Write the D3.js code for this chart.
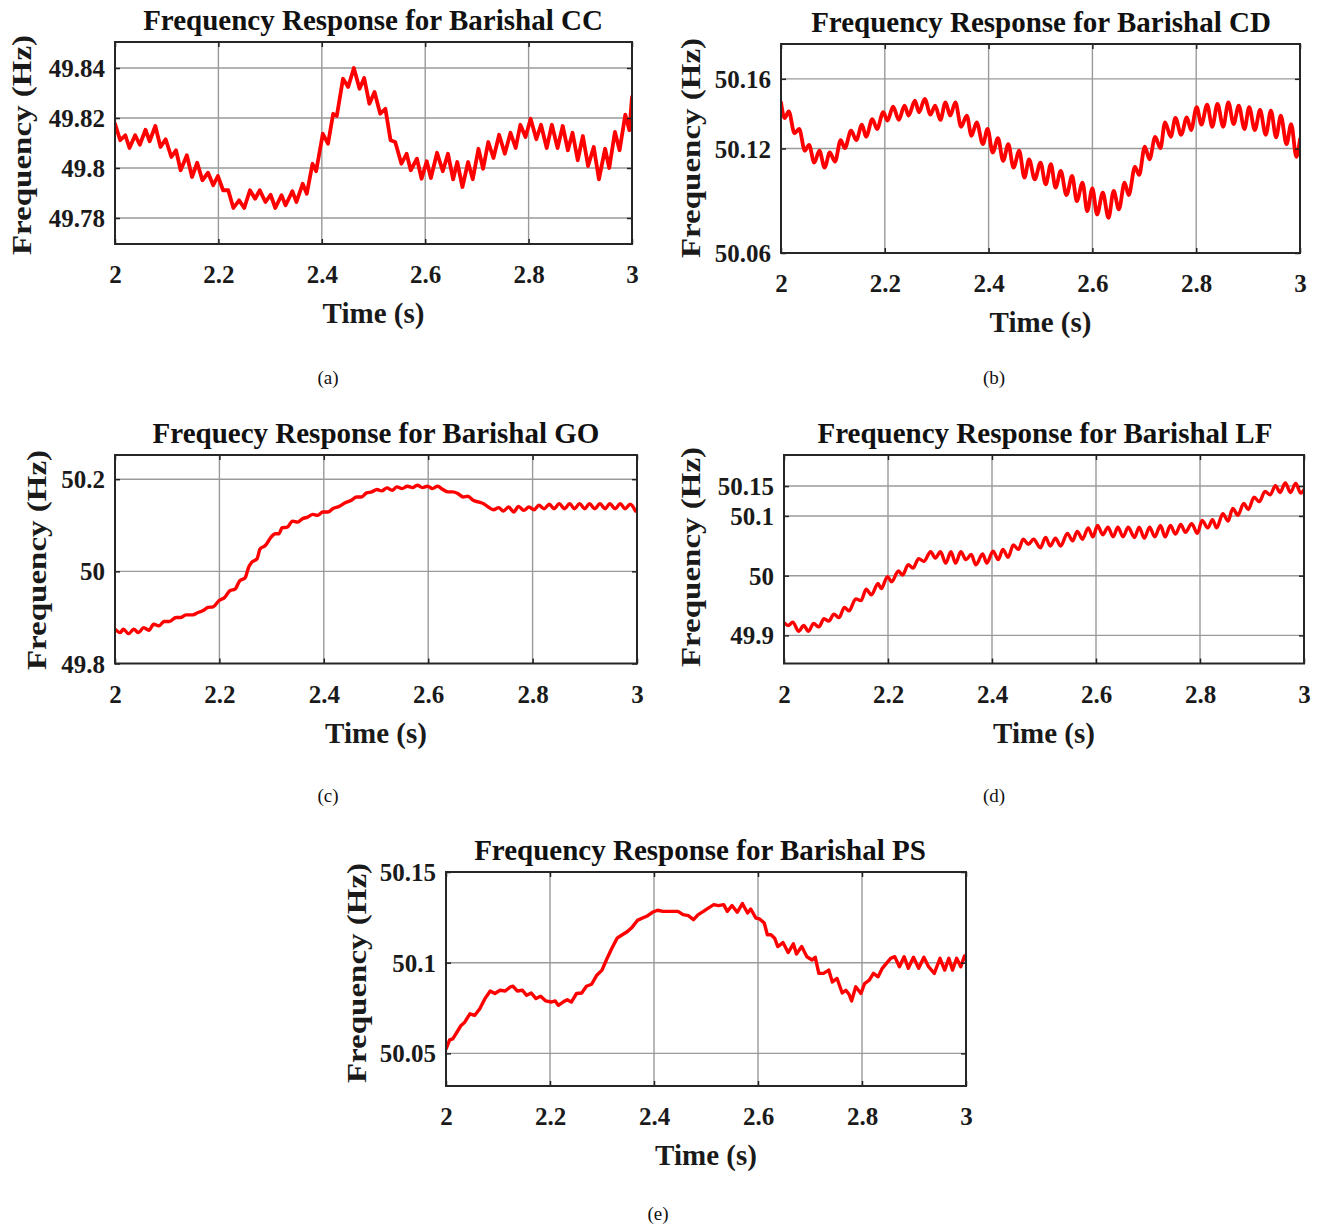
<!DOCTYPE html>
<html><head><meta charset="utf-8">
<script src="https://cdn.jsdelivr.net/npm/d3@7"></script>
<style>
body{margin:0;background:#fff}
svg{display:block}
text{font-family:"Liberation Serif","Times New Roman",serif}
</style>
</head><body>
<svg id="chart" width="1324" height="1226"></svg>
<script>
// ---------------- data ----------------
const timeA=[2.000,2.010,2.020,2.028,2.039,2.048,2.059,2.067,2.078,2.088,2.098,2.109,2.118,2.127,2.139,2.149,2.159,2.169,2.180,2.190,2.199,2.209,2.219,2.229,2.240,2.250,2.261,2.271,2.280,2.291,2.301,2.310,2.322,2.330,2.343,2.351,2.363,2.371,2.382,2.389,2.402,2.412,2.422,2.429,2.441,2.451,2.462,2.473,2.482,2.492,2.502,2.513,2.523,2.533,2.542,2.554,2.564,2.572,2.584,2.593,2.603,2.611,2.623,2.634,2.644,2.654,2.662,2.672,2.683,2.692,2.703,2.712,2.722,2.732,2.743,2.754,2.765,2.775,2.784,2.794,2.804,2.815,2.824,2.835,2.845,2.856,2.866,2.876,2.885,2.895,2.905,2.915,2.926,2.936,2.948,2.956,2.967,2.976,2.987,2.995,3.000];
const freqA=[49.8177,49.8111,49.8131,49.8080,49.8131,49.8093,49.8153,49.8107,49.8168,49.8084,49.8115,49.8044,49.8071,49.7991,49.8051,49.7964,49.8021,49.7951,49.7981,49.7931,49.7968,49.7911,49.7911,49.7840,49.7871,49.7840,49.7911,49.7877,49.7911,49.7864,49.7893,49.7840,49.7891,49.7851,49.7907,49.7864,49.7937,49.7897,49.8017,49.7987,49.8137,49.8097,49.8217,49.8208,49.8357,49.8324,49.8400,49.8317,49.8360,49.8257,49.8304,49.8217,49.8237,49.8111,49.8104,49.8017,49.8057,49.7991,49.8037,49.7957,49.8027,49.7960,49.8061,49.7987,49.8057,49.7955,49.8024,49.7924,49.8024,49.7955,49.8077,49.7997,49.8104,49.8040,49.8133,49.8057,49.8141,49.8080,49.8173,49.8124,49.8197,49.8115,49.8173,49.8080,49.8173,49.8080,49.8168,49.8071,49.8141,49.8031,49.8128,49.8008,49.8084,49.7955,49.8077,49.8000,49.8144,49.8071,49.8213,49.8151,49.8284];

const timeB=[2.000,2.007,2.015,2.026,2.035,2.046,2.054,2.064,2.074,2.084,2.094,2.104,2.115,2.123,2.135,2.145,2.156,2.164,2.176,2.185,2.197,2.205,2.216,2.227,2.238,2.246,2.258,2.266,2.277,2.288,2.297,2.307,2.317,2.326,2.336,2.347,2.358,2.367,2.377,2.389,2.398,2.408,2.418,2.428,2.438,2.448,2.459,2.469,2.478,2.489,2.500,2.510,2.520,2.529,2.539,2.550,2.561,2.570,2.581,2.590,2.600,2.609,2.620,2.631,2.641,2.651,2.662,2.670,2.682,2.690,2.701,2.710,2.721,2.731,2.740,2.751,2.760,2.771,2.782,2.790,2.801,2.810,2.821,2.831,2.841,2.852,2.862,2.872,2.882,2.893,2.902,2.913,2.923,2.934,2.944,2.954,2.963,2.974,2.983,2.993,3.000];
const freqB=[50.1465,50.1375,50.1413,50.1287,50.1312,50.1187,50.1221,50.1119,50.1187,50.1090,50.1177,50.1125,50.1248,50.1202,50.1302,50.1248,50.1337,50.1267,50.1369,50.1312,50.1408,50.1360,50.1440,50.1364,50.1446,50.1389,50.1475,50.1408,50.1485,50.1394,50.1446,50.1364,50.1465,50.1389,50.1465,50.1325,50.1389,50.1273,50.1350,50.1225,50.1312,50.1177,50.1260,50.1129,50.1225,50.1090,50.1187,50.1033,50.1138,50.1023,50.1119,50.0994,50.1110,50.0975,50.1071,50.0933,50.1042,50.0898,50.1004,50.0840,50.0971,50.0821,50.0946,50.0802,50.0956,50.0850,50.1004,50.0933,50.1094,50.1048,50.1210,50.1138,50.1267,50.1202,50.1350,50.1267,50.1375,50.1279,50.1379,50.1306,50.1437,50.1337,50.1452,50.1325,50.1456,50.1325,50.1465,50.1340,50.1446,50.1312,50.1437,50.1306,50.1421,50.1279,50.1417,50.1264,50.1389,50.1225,50.1340,50.1152,50.1254];

const timeC=[2.000,2.010,2.016,2.026,2.036,2.045,2.055,2.065,2.074,2.084,2.094,2.104,2.117,2.126,2.136,2.149,2.159,2.168,2.178,2.188,2.199,2.210,2.220,2.230,2.239,2.249,2.256,2.262,2.272,2.278,2.288,2.298,2.307,2.314,2.320,2.330,2.340,2.350,2.359,2.369,2.379,2.388,2.398,2.408,2.417,2.430,2.440,2.453,2.463,2.472,2.482,2.492,2.502,2.511,2.521,2.531,2.540,2.550,2.560,2.570,2.579,2.589,2.599,2.608,2.618,2.628,2.638,2.647,2.657,2.667,2.676,2.686,2.696,2.706,2.715,2.725,2.735,2.744,2.754,2.764,2.773,2.783,2.793,2.803,2.812,2.822,2.832,2.841,2.851,2.861,2.871,2.880,2.890,2.900,2.909,2.919,2.929,2.939,2.948,2.958,2.968,2.977,2.987,2.997];
const freqC=[49.8742,49.8670,49.8742,49.8648,49.8742,49.8670,49.8779,49.8721,49.8852,49.8816,49.8910,49.8910,49.8997,49.8997,49.9056,49.9056,49.9106,49.9143,49.9216,49.9230,49.9361,49.9434,49.9579,49.9615,49.9797,49.9855,50.0088,50.0197,50.0270,50.0488,50.0560,50.0728,50.0815,50.0815,50.0946,50.0960,50.1091,50.1069,50.1142,50.1178,50.1237,50.1215,50.1288,50.1288,50.1360,50.1411,50.1484,50.1542,50.1615,50.1615,50.1702,50.1724,50.1775,50.1746,50.1811,50.1760,50.1833,50.1796,50.1847,50.1818,50.1869,50.1818,50.1847,50.1796,50.1847,50.1775,50.1724,50.1724,50.1687,50.1615,50.1629,50.1542,50.1506,50.1469,50.1397,50.1338,50.1382,50.1309,50.1397,50.1288,50.1411,50.1324,50.1397,50.1338,50.1433,50.1360,50.1455,50.1360,50.1469,50.1360,50.1469,50.1360,50.1469,50.1360,50.1469,50.1360,50.1469,50.1360,50.1469,50.1360,50.1469,50.1360,50.1455,50.1309];

const timeD=[2.000,2.008,2.017,2.028,2.038,2.047,2.057,2.067,2.077,2.086,2.096,2.106,2.116,2.125,2.138,2.148,2.158,2.168,2.181,2.187,2.199,2.207,2.220,2.228,2.239,2.248,2.259,2.269,2.282,2.291,2.301,2.311,2.321,2.330,2.340,2.350,2.360,2.369,2.382,2.390,2.402,2.412,2.421,2.431,2.441,2.451,2.460,2.470,2.480,2.493,2.503,2.512,2.522,2.532,2.545,2.555,2.564,2.574,2.585,2.594,2.603,2.613,2.623,2.633,2.642,2.652,2.662,2.674,2.683,2.693,2.703,2.713,2.724,2.733,2.743,2.753,2.763,2.772,2.784,2.795,2.804,2.815,2.824,2.832,2.844,2.854,2.863,2.873,2.884,2.893,2.904,2.914,2.925,2.935,2.945,2.954,2.964,2.974,2.984,2.994,3.000];
const freqD=[49.9212,49.9166,49.9223,49.9069,49.9166,49.9069,49.9200,49.9143,49.9280,49.9240,49.9355,49.9298,49.9469,49.9412,49.9612,49.9583,49.9772,49.9680,49.9869,49.9783,49.9983,49.9897,50.0080,50.0011,50.0183,50.0126,50.0286,50.0240,50.0400,50.0297,50.0400,50.0211,50.0400,50.0211,50.0400,50.0268,50.0354,50.0183,50.0365,50.0211,50.0411,50.0268,50.0440,50.0308,50.0514,50.0440,50.0611,50.0525,50.0611,50.0468,50.0640,50.0497,50.0628,50.0497,50.0708,50.0582,50.0742,50.0611,50.0800,50.0651,50.0839,50.0685,50.0811,50.0651,50.0811,50.0651,50.0811,50.0640,50.0811,50.0628,50.0811,50.0651,50.0839,50.0651,50.0839,50.0697,50.0857,50.0725,50.0868,50.0708,50.0925,50.0800,50.0936,50.0800,50.1039,50.0914,50.1125,50.1011,50.1210,50.1108,50.1313,50.1239,50.1410,50.1353,50.1507,50.1393,50.1553,50.1393,50.1542,50.1382,50.1439];

const timeE=[2.000,2.007,2.013,2.023,2.029,2.036,2.046,2.055,2.065,2.075,2.085,2.094,2.104,2.114,2.124,2.129,2.137,2.147,2.155,2.164,2.173,2.182,2.192,2.202,2.210,2.216,2.225,2.233,2.241,2.251,2.261,2.270,2.280,2.290,2.300,2.309,2.319,2.329,2.339,2.349,2.358,2.368,2.378,2.388,2.397,2.407,2.417,2.427,2.436,2.446,2.456,2.466,2.476,2.485,2.495,2.505,2.515,2.524,2.534,2.541,2.550,2.560,2.570,2.580,2.586,2.596,2.603,2.612,2.618,2.625,2.632,2.638,2.648,2.658,2.668,2.674,2.684,2.694,2.704,2.710,2.717,2.726,2.736,2.743,2.752,2.762,2.769,2.775,2.780,2.788,2.798,2.805,2.814,2.822,2.831,2.839,2.847,2.855,2.863,2.872,2.881,2.889,2.899,2.909,2.919,2.928,2.939,2.950,2.959,2.967,2.974,2.982,2.990,2.997,3.000];
const freqE=[50.0524,50.0574,50.0580,50.0626,50.0654,50.0672,50.0718,50.0709,50.0746,50.0802,50.0844,50.0830,50.0848,50.0844,50.0867,50.0870,50.0844,50.0848,50.0820,50.0833,50.0802,50.0815,50.0789,50.0783,50.0789,50.0765,50.0783,50.0796,50.0783,50.0830,50.0833,50.0870,50.0881,50.0931,50.0959,50.1019,50.1080,50.1135,50.1154,50.1172,50.1196,50.1233,50.1246,50.1259,50.1278,50.1289,50.1283,50.1283,50.1283,50.1283,50.1265,50.1259,50.1237,50.1265,50.1283,50.1302,50.1320,50.1315,50.1320,50.1283,50.1315,50.1278,50.1326,50.1274,50.1296,50.1246,50.1241,50.1219,50.1154,50.1154,50.1135,50.1089,50.1111,50.1056,50.1104,50.1048,50.1089,50.1033,50.1015,50.1030,50.0941,50.0941,50.0959,50.0894,50.0913,50.0833,50.0848,50.0826,50.0789,50.0867,50.0830,50.0885,50.0904,50.0941,50.0922,50.0969,50.0996,50.1024,50.1033,50.0978,50.1033,50.0969,50.1030,50.0969,50.1030,50.0978,50.0941,50.1024,50.0959,50.1024,50.0959,50.1024,50.0978,50.1037,50.1019];

const xTicks=[2,2.2,2.4,2.6,2.8,3];
const yTicksA=[49.78,49.8,49.82,49.84];
const yTicksB=[50.06,50.12,50.16];
const yTicksC=[49.8,50,50.2];
const yTicksD=[49.9,50,50.1,50.15];
const yTicksE=[50.05,50.1,50.15];
const yLimA=[49.7696,49.8504];
const yLimB=[50.06,50.18];
const yLimC=[49.80,50.2525];
const yLimD=[49.853,50.202];
const yLimE=[50.032,50.15];
const titles=["Frequency Response for Barishal CC","Frequency Response for Barishal CD","Frequecy Response for Barishal GO","Frequency Response for Barishal LF","Frequency Response for Barishal PS"];
const captions=["(a)","(b)","(c)","(d)","(e)"];
const xLabel="Time (s)";
const yLabel="Frequency (Hz)";

// ---------------- layout ----------------
const panels=[
 {t:timeA,f:freqA,lim:yLimA,ticks:yTicksA,box:[115,42,632,244],titleX:373,ylab:[22,145],cap:[328,384],curve:d3.curveLinear,sw:3.8},
 {t:timeB,f:freqB,lim:yLimB,ticks:yTicksB,box:[781,44,1300,253],titleX:1041,ylab:[691,148],cap:[994,384],curve:d3.curveMonotoneX,sw:3.8},
 {t:timeC,f:freqC,lim:yLimC,ticks:yTicksC,box:[115,455,637,663.5],titleX:376,ylab:[37,560],cap:[328,802],curve:d3.curveMonotoneX,sw:3.4},
 {t:timeD,f:freqD,lim:yLimD,ticks:yTicksD,box:[784,455,1304,663.5],titleX:1045,ylab:[691,557],cap:[994,802],curve:d3.curveMonotoneX,sw:3.4},
 {t:timeE,f:freqE,lim:yLimE,ticks:yTicksE,box:[446,872,966,1086],titleX:700,ylab:[357,973],cap:[658,1220],curve:d3.curveLinear,sw:3.4}
];

const svg=d3.select("#chart");
svg.append("rect").attr("width",1324).attr("height",1226).attr("fill","#fff");

panels.forEach((p,i)=>{
  const [L,T,R,B]=p.box;
  const x=d3.scaleLinear().domain([2,3]).range([L,R]);
  const y=d3.scaleLinear().domain(p.lim).range([B,T]);
  const g=svg.append("g");

  // grid
  g.append("g").selectAll("line").data(xTicks.filter(v=>v>2&&v<3)).join("line")
    .attr("x1",d=>x(d)).attr("x2",d=>x(d)).attr("y1",T).attr("y2",B)
    .attr("stroke","#9a9a9a").attr("stroke-width",1.4);
  g.append("g").selectAll("line").data(p.ticks.filter(v=>y(v)>T+1&&y(v)<B-1)).join("line")
    .attr("x1",L).attr("x2",R).attr("y1",d=>y(d)).attr("y2",d=>y(d))
    .attr("stroke","#9a9a9a").attr("stroke-width",1.4);

  // clip + line
  const cid="clip"+i;
  svg.append("clipPath").attr("id",cid).append("rect").attr("x",L).attr("y",T).attr("width",R-L).attr("height",B-T);
  const data=p.t.map((t,k)=>[t,p.f[k]]);
  g.append("path").datum(data).attr("clip-path",`url(#${cid})`)
    .attr("fill","none").attr("stroke","#ff0000").attr("stroke-width",p.sw)
    .attr("stroke-linejoin","round").attr("stroke-linecap","round")
    .attr("d",d3.line().x(d=>x(d[0])).y(d=>y(d[1])).curve(p.curve));

  // axes (inward ticks on all four sides)
  const ax=(gen,tr)=>{
    const a=g.append("g").attr("transform",tr).call(gen);
    a.select(".domain").remove();
    a.selectAll(".tick line").attr("stroke","#222").attr("stroke-width",1.5);
    return a;
  };
  const bottom=ax(d3.axisBottom(x).tickValues(xTicks).tickSize(-5).tickPadding(10).tickFormat(d=>String(d)),`translate(0,${B})`);
  ax(d3.axisTop(x).tickValues(xTicks).tickSize(-5).tickFormat(""),`translate(0,${T})`);
  const left=ax(d3.axisLeft(y).tickValues(p.ticks).tickSize(-5).tickPadding(10).tickFormat(d=>String(d)),`translate(${L},0)`);
  ax(d3.axisRight(y).tickValues(p.ticks).tickSize(-5).tickFormat(""),`translate(${R},0)`);

  bottom.selectAll(".tick text").attr("y",39).attr("dy",null)
    .attr("font-size",25).attr("font-weight","bold").attr("fill","#1a1a1a")
    .attr("font-family","'Liberation Serif','Times New Roman',serif");
  left.selectAll(".tick text").attr("x",-10).attr("dy","0.34em")
    .attr("font-size",25).attr("font-weight","bold").attr("fill","#1a1a1a")
    .attr("font-family","'Liberation Serif','Times New Roman',serif");

  // border
  g.append("rect").attr("x",L).attr("y",T).attr("width",R-L).attr("height",B-T)
    .attr("fill","none").attr("stroke","#262626").attr("stroke-width",2);

  // title
  g.append("text").attr("x",p.titleX).attr("y",T-12).attr("text-anchor","middle")
    .attr("font-size",29).attr("font-weight","bold").attr("fill","#111").text(titles[i]);
  // x label
  g.append("text").attr("x",(L+R)/2).attr("y",B+79).attr("text-anchor","middle")
    .attr("font-size",29).attr("font-weight","bold").attr("fill","#1a1a1a").text(xLabel);
  // y label
  g.append("text").attr("transform",`translate(${p.ylab[0]+9},${p.ylab[1]}) rotate(-90) scale(1,0.8)`)
    .attr("text-anchor","middle").attr("font-size",33).attr("font-weight","bold").attr("fill","#1a1a1a").text(yLabel);
  // caption
  g.append("text").attr("x",p.cap[0]).attr("y",p.cap[1]).attr("text-anchor","middle")
    .attr("font-size",19).attr("fill","#111").text(captions[i]);
});
</script>
</body></html>
